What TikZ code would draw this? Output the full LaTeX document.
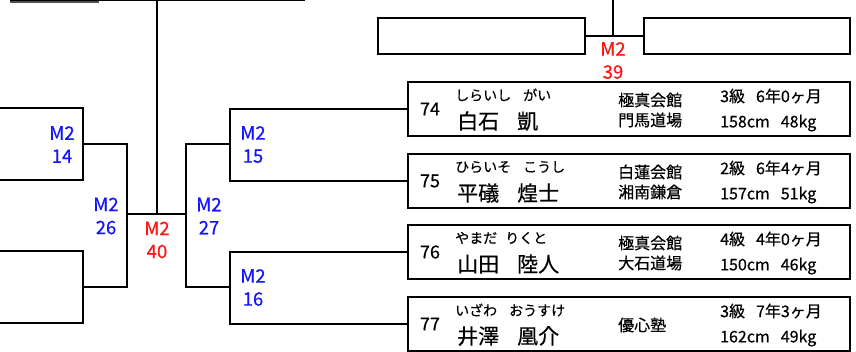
\documentclass[tikz,border=0pt]{standalone}
\usepackage{fontspec}
\setmainfont[FakeBold=0.5]{Noto Sans CJK JP}
\definecolor{mblue}{RGB}{20,20,255}
\definecolor{mred}{RGB}{255,20,20}
\definecolor{lgray}{RGB}{80,80,80}
\tikzset{
  bline/.style={line width=2pt, line join=miter},
  mlabel/.style={font=\fontsize{18.5}{23}\selectfont, align=center, inner sep=0pt},
  blu/.style={mlabel, text=mblue},
  rd/.style={mlabel, text=mred},
  pbox/.style={draw, line width=2pt, minimum width=442pt, minimum height=54pt, inner sep=0pt, anchor=north west},
  tbox/.style={draw, line width=2pt, minimum height=36pt, inner sep=0pt, anchor=north west},
  pnum/.style={font=\fontsize{18}{18}\selectfont, inner sep=0pt},
  pfuri/.style={font=\fontsize{14}{16}\selectfont, inner sep=0pt, anchor=west},
  pname/.style={font=\fontsize{21}{24}\selectfont, inner sep=0pt, anchor=west},
  pdojo/.style={font=\fontsize{16}{20}\selectfont, inner sep=0pt, anchor=west, align=left},
  prank/.style={font=\fontsize{16}{17}\selectfont, inner sep=0pt, anchor=west},
}
\begin{document}
\begin{tikzpicture}[x=1pt,y=-1pt]
\useasboundingbox (0,0) rectangle (856,352);
% top lines
\coordinate (tla) at (10,0.6);
\coordinate (tlb) at (305,0.6);
\draw[line width=1.2pt] (tla) -- (tlb);
\coordinate (tga) at (10,1.6);
\coordinate (tgb) at (99,1.6);
\draw[line width=2pt, lgray] (tga) -- (tgb);
% central final line
\coordinate (c40top) at (157,0);
\coordinate (c40) at (157,214);
\coordinate (j26) at (127,214);
\coordinate (j27) at (186,214);
\draw[bline] (c40top) -- (c40);
\draw[bline] (j26) -- (j27);
% left side
\coordinate (l14a) at (0,108);
\coordinate (l14b) at (0,180);
\coordinate (l14c) at (83,180);
\coordinate (l14m) at (83,144);
\draw[bline] (l14a) -| (l14c) -- (l14b);
\coordinate (l13a) at (0,251);
\coordinate (l13b) at (0,323);
\coordinate (l13c) at (83,323);
\coordinate (l13m) at (83,287);
\draw[bline] (l13a) -| (l13c) -- (l13b);
\coordinate (x26a) at (127,144);
\coordinate (x26b) at (127,287);
\draw[bline] (l14m) -- (x26a) -- (x26b) -- (l13m);
% player boxes
\node[pbox] (p74) at (407,81) {};
\node[pbox] (p75) at (407,153) {};
\node[pbox] (p76) at (407,224) {};
\node[pbox] (p77) at (407,296) {};
% numbers
\node[pnum] (n74) at ([xshift=23pt]p74.west) {74};
\node[pnum] (n75) at ([xshift=23pt]p75.west) {75};
\node[pnum] (n76) at ([xshift=23pt]p76.west) {76};
\node[pnum] (n77) at ([xshift=23pt]p77.west) {77};
% furigana
\node[pfuri] (f74) at ([xshift=48pt,yshift=-14pt]p74.north west) {しらいし\hspace{12pt}がい};
\node[pfuri] (f75) at ([xshift=48pt,yshift=-14pt]p75.north west) {ひらいそ\hspace{12pt}こうし};
\node[pfuri] (f76) at ([xshift=48pt,yshift=-14pt]p76.north west) {やまだ\hspace{8pt}りくと};
\node[pfuri] (f77) at ([xshift=48pt,yshift=-14pt]p77.north west) {いざわ\hspace{12pt}おうすけ};
% names
\node[pname] (k74) at ([xshift=50pt,yshift=-40pt]p74.north west) {白石\hspace{18pt}凱};
\node[pname] (k75) at ([xshift=50pt,yshift=-40pt]p75.north west) {平礒\hspace{18pt}煌士};
\node[pname] (k76) at ([xshift=50pt,yshift=-40pt]p76.north west) {山田\hspace{18pt}陸人};
\node[pname] (k77) at ([xshift=50pt,yshift=-40pt]p77.north west) {井澤\hspace{18pt}凰介};
% dojo
\node[pdojo] (d74) at ([xshift=211pt,yshift=-1pt]p74.west) {極真会館\\門馬道場};
\node[pdojo] (d75) at ([xshift=211pt,yshift=-1pt]p75.west) {白蓮会館\\湘南鎌倉};
\node[pdojo] (d76) at ([xshift=211pt,yshift=-1pt]p76.west) {極真会館\\大石道場};
\node[pdojo] (d77) at ([xshift=211pt,yshift=-1pt]p77.west) {優心塾};
% rank and body
\node[prank] (r74) at ([xshift=313pt,yshift=-15pt]p74.north west) {3級\hspace{11pt}6年0ヶ月};
\node[prank] (r75) at ([xshift=313pt,yshift=-15pt]p75.north west) {2級\hspace{11pt}6年4ヶ月};
\node[prank] (r76) at ([xshift=313pt,yshift=-15pt]p76.north west) {4級\hspace{11pt}4年0ヶ月};
\node[prank] (r77) at ([xshift=313pt,yshift=-15pt]p77.north west) {3級\hspace{11pt}7年3ヶ月};
\node[prank] (b74) at ([xshift=313pt,yshift=-42pt]p74.north west) {158cm\hspace{11pt}48kg};
\node[prank] (b75) at ([xshift=313pt,yshift=-42pt]p75.north west) {157cm\hspace{11pt}51kg};
\node[prank] (b76) at ([xshift=313pt,yshift=-42pt]p76.north west) {150cm\hspace{11pt}46kg};
\node[prank] (b77) at ([xshift=313pt,yshift=-42pt]p77.north west) {162cm\hspace{11pt}49kg};
% right brackets
\coordinate (r15x) at (230,144);
\coordinate (r16x) at (230,287);
\draw[bline] (p74.west) -| (r15x) |- (p75.west);
\draw[bline] (p76.west) -| (r16x) |- (p77.west);
\coordinate (x27a) at (186,144);
\coordinate (x27b) at (186,287);
\draw[bline] (r15x) -- (x27a) -- (x27b) -- (r16x);
% top right
\node[tbox, minimum width=207pt] (t1) at (377,17) {};
\node[tbox, minimum width=206pt] (t2) at (643,17) {};
\coordinate (c39top) at (613,0);
\draw[bline] (t1.east) -- (t2.west);
\draw[bline] (c39top) -- (c39top |- t1.east);
% labels
\node[blu] (m14) at (62,144.5) {M2\\14};
\node[blu] (m15) at (253,144.5) {M2\\15};
\node[blu] (m26) at (106,216) {M2\\26};
\node[rd] (m40) at (157,240) {M2\\40};
\node[blu] (m27) at (209,216) {M2\\27};
\node[blu] (m16) at (253,287.5) {M2\\16};
\node[rd] (m39) at (613,60.5) {M2\\39};
\end{tikzpicture}
\end{document}
